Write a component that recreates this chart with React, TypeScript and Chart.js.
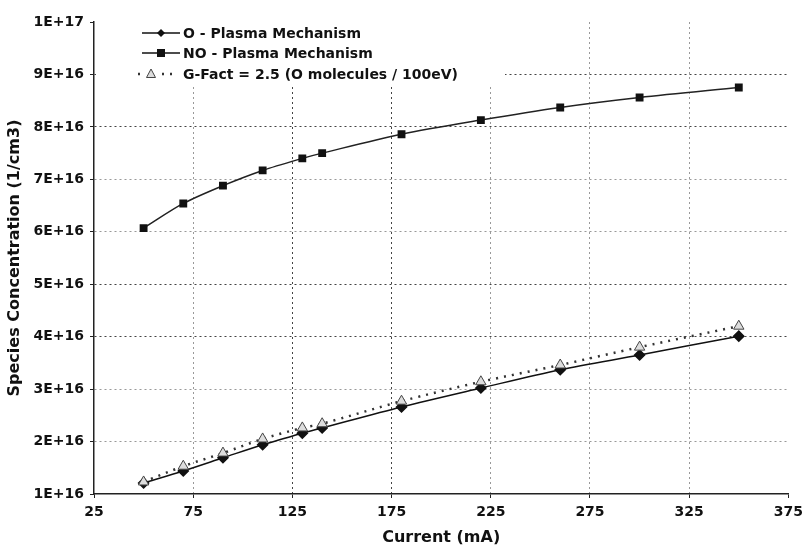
import React, { useEffect, useRef } from "react";
import { Chart, registerables } from "chart.js";

Chart.register(...registerables);

const currents = [50, 70, 90, 110, 130, 140, 180, 220, 260, 300, 350];
const oPlasma = [1.21e16, 1.44e16, 1.69e16, 1.94e16, 2.16e16, 2.26e16, 2.66e16, 3.02e16, 3.37e16, 3.65e16, 4.01e16];
const noPlasma = [6.07e16, 6.54e16, 6.88e16, 7.17e16, 7.4e16, 7.5e16, 7.86e16, 8.13e16, 8.37e16, 8.56e16, 8.75e16];
const gFact = [1.23e16, 1.53e16, 1.78e16, 2.05e16, 2.26e16, 2.34e16, 2.77e16, 3.14e16, 3.46e16, 3.8e16, 4.2e16];
const seriesNames = ["O - Plasma Mechanism", "NO - Plasma Mechanism", "G-Fact = 2.5 (O molecules / 100eV)"];
const xTitle = "Current (mA)";
const yTitle = "Species Concentration (1/cm3)";

const FONT = "'DejaVu Sans', Verdana, sans-serif";

function fmtSci(v: number): string {
  if (v <= 0) return "0";
  const exp = Math.floor(Math.log10(v) + 1e-9);
  const mant = Math.round(v / Math.pow(10, exp));
  return `${mant}E+${exp}`;
}

const legendPlugin = {
  id: "customLegend",
  beforeDatasetsDraw(chart: any) {
    const ctx = chart.ctx;
    ctx.save();
    ctx.fillStyle = "#fff";
    ctx.fillRect(96, 0, 409, 84);
    const rows = [33, 53, 74];
    ctx.font = `bold 14px ${FONT}`;
    ctx.fillStyle = "#111";
    ctx.textBaseline = "middle";
    ctx.textAlign = "left";
    // row 1
    ctx.strokeStyle = "#111";
    ctx.lineWidth = 1.5;
    ctx.beginPath();
    ctx.moveTo(142, rows[0]);
    ctx.lineTo(180, rows[0]);
    ctx.stroke();
    ctx.beginPath();
    ctx.moveTo(161, rows[0] - 4);
    ctx.lineTo(165, rows[0]);
    ctx.lineTo(161, rows[0] + 4);
    ctx.lineTo(157, rows[0]);
    ctx.closePath();
    ctx.fill();
    ctx.fillText(seriesNames[0], 183, rows[0] + 1);
    // row 2
    ctx.beginPath();
    ctx.moveTo(142, rows[1]);
    ctx.lineTo(180, rows[1]);
    ctx.stroke();
    ctx.fillRect(157, rows[1] - 4, 8, 8);
    ctx.fillText(seriesNames[1], 183, rows[1] + 1);
    // row 3
    ctx.setLineDash([2, 6]);
    ctx.lineWidth = 2.5;
    ctx.strokeStyle = "#333";
    ctx.beginPath();
    ctx.moveTo(138, rows[2]);
    ctx.lineTo(176, rows[2]);
    ctx.stroke();
    ctx.setLineDash([]);
    ctx.fillStyle = "#fff";
    ctx.fillRect(145, rows[2] - 7, 12, 13);
    ctx.beginPath();
    ctx.moveTo(151, rows[2] - 5);
    ctx.lineTo(155.5, rows[2] + 3.5);
    ctx.lineTo(146.5, rows[2] + 3.5);
    ctx.closePath();
    ctx.fillStyle = "#ddd";
    ctx.fill();
    ctx.lineWidth = 1;
    ctx.strokeStyle = "#444";
    ctx.stroke();
    ctx.fillStyle = "#111";
    ctx.fillText(seriesNames[2], 183, rows[2] + 1);
    ctx.restore();
  },
};

const darkY = [4e16, 5e16, 8e16, 9e16];
const darkX = [125, 175];

export default function App() {
  const ref = useRef<HTMLCanvasElement | null>(null);
  useEffect(() => {
    if (!ref.current) return;
    const chart = new Chart(ref.current, {
      type: "line",
      data: {
        datasets: [
          {
            label: seriesNames[2],
            data: currents.map((x, i) => ({ x, y: gFact[i] })),
            borderColor: "#333",
            borderWidth: 2.5,
            borderDash: [2, 6],
            pointStyle: "triangle",
            pointRadius: 6,
            pointBackgroundColor: "#ddd",
            pointBorderColor: "#444",
            pointBorderWidth: 1,
            tension: 0.3,
            order: 0,
          },
          {
            label: seriesNames[0],
            data: currents.map((x, i) => ({ x, y: oPlasma[i] })),
            borderColor: "#111",
            borderWidth: 1.5,
            pointStyle: "rectRot",
            pointRadius: 5,
            pointBackgroundColor: "#111",
            pointBorderColor: "#111",
            tension: 0.3,
            order: 1,
          },
          {
            label: seriesNames[1],
            data: currents.map((x, i) => ({ x, y: noPlasma[i] })),
            borderColor: "#222",
            borderWidth: 1.5,
            pointStyle: "rect",
            pointRadius: 4.5,
            pointBackgroundColor: "#111",
            pointBorderColor: "#111",
            tension: 0.3,
            order: 2,
          },
        ],
      },
      options: {
        animation: false,
        responsive: false,
        layout: { padding: { top: 22, right: 17, bottom: 0, left: 0 } },
        plugins: { legend: { display: false }, tooltip: { enabled: false } },
        scales: {
          x: {
            type: "linear",
            min: 25,
            max: 375,
            afterFit: (s: any) => {
              s.height = 54;
            },
            ticks: {
              stepSize: 50,
              color: "#111",
              font: { family: FONT, size: 14, weight: "bold" },
              padding: 6,
              maxRotation: 0,
            },
            grid: {
              color: (c: any) => {
                const v = c.tick ? c.tick.value : 0;
                if (v === 375 || v === 25) return "rgba(0,0,0,0)";
                return darkX.includes(v) ? "#444" : "#999";
              },
              tickColor: "#222",
              tickLength: 4,
              lineWidth: 1,
            },
            border: { color: "#222", width: 1.5, dash: [2, 3] },
            title: {
              display: true,
              text: xTitle,
              color: "#111",
              font: { family: FONT, size: 16, weight: "bold" },
              padding: { top: 0, bottom: 1 },
            },
          },
          y: {
            min: 1e16,
            max: 1e17,
            afterFit: (s: any) => {
              s.width = 94;
            },
            ticks: {
              stepSize: 1e16,
              color: "#111",
              font: { family: FONT, size: 14, weight: "bold" },
              padding: 6,
              callback: (v: any) => fmtSci(Number(v)),
            },
            grid: {
              color: (c: any) => {
                const v = c.tick ? c.tick.value : 0;
                if (Math.abs(v - 1e17) < 1e14 || Math.abs(v - 1e16) < 1e14) return "rgba(0,0,0,0)";
                return darkY.some((d) => Math.abs(d - v) < 1e14) ? "#444" : "#999";
              },
              tickColor: "#222",
              tickLength: 4,
              lineWidth: 1,
            },
            border: { color: "#222", width: 1.5, dash: [2, 3] },
            title: {
              display: true,
              text: yTitle,
              color: "#111",
              font: { family: FONT, size: 16, weight: "bold" },
              padding: { top: 5, bottom: 0 },
            },
          },
        },
      },
      plugins: [legendPlugin],
    } as any);
    return () => chart.destroy();
  }, []);
  return (
    <div style={{ position: "fixed", left: 0, top: 0, width: 809, height: 548, background: "#fff" }}>
      <canvas ref={ref} width={809} height={548} />
    </div>
  );
}
